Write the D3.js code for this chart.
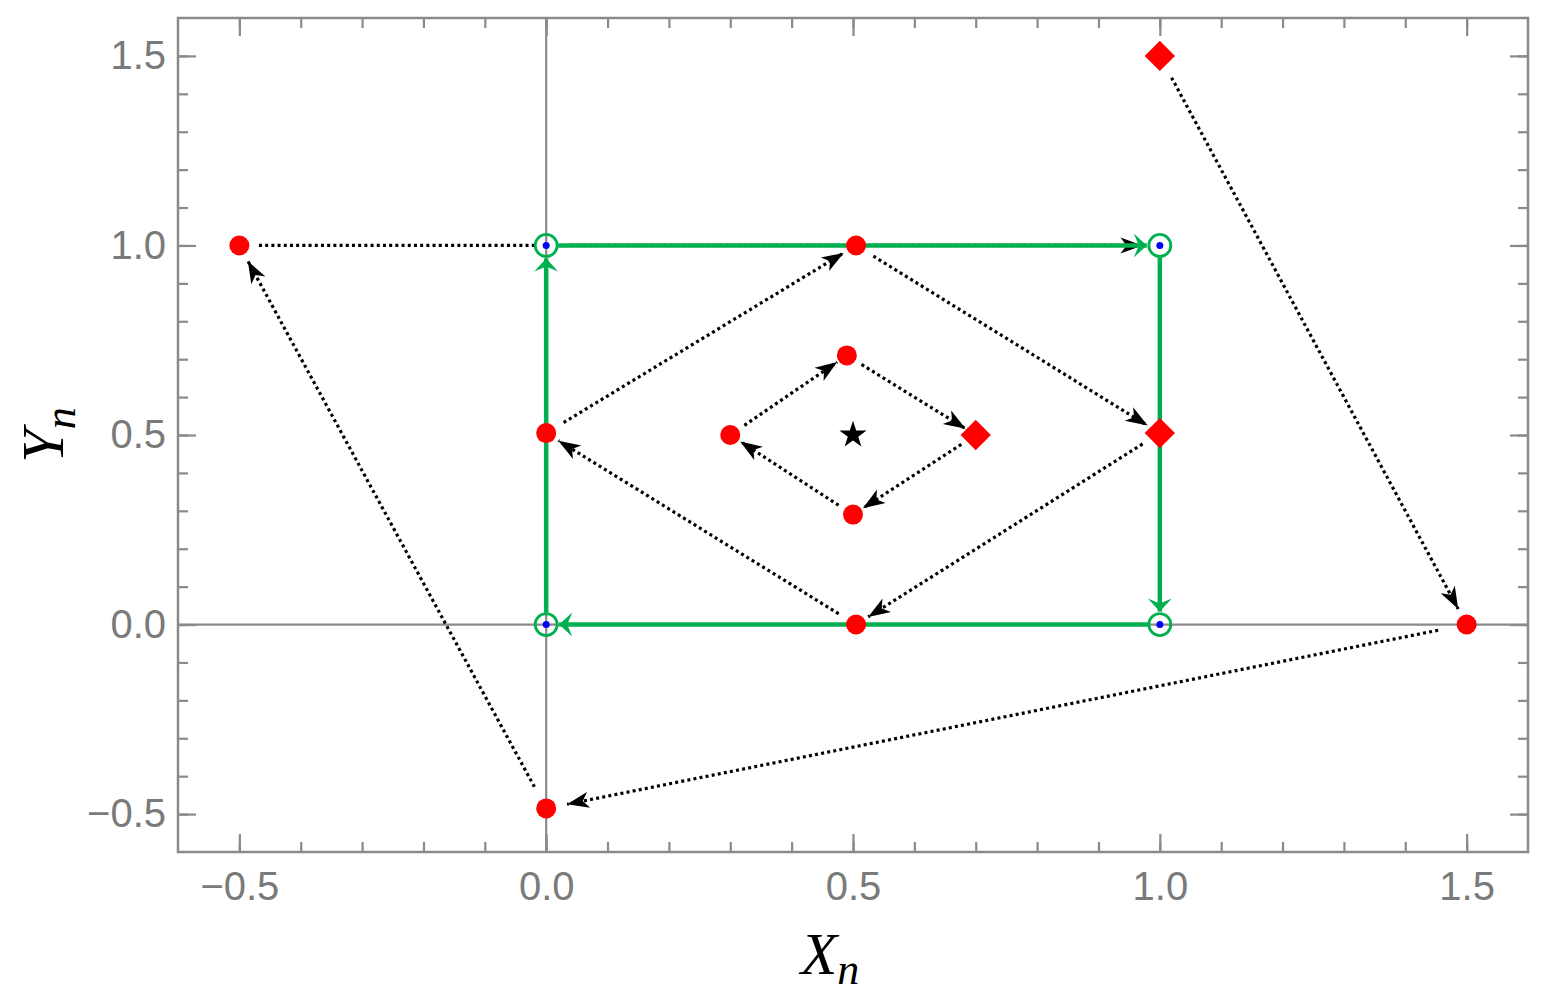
<!DOCTYPE html>
<html>
<head>
<meta charset="utf-8">
<script src="https://cdn.jsdelivr.net/npm/d3@7"></script>
<style>
  body { margin: 0; background: #fff; }
  .tick text { font-family: "Liberation Sans", Arial, sans-serif; font-size: 40px; fill: #7a7a7a; }
  .tick line { stroke: #8a8a8a; stroke-width: 2.2; }
</style>
</head>
<body>
<svg width="1544" height="1000"></svg>
<script>

// data

var xMajor = [-0.5, 0.0, 0.5, 1.0, 1.5];
var yMajor = [-0.5, 0.0, 0.5, 1.0, 1.5];
var minorTicks = [-0.5, -0.4, -0.3, -0.2, -0.1, 0.0, 0.1, 0.2, 0.3, 0.4, 0.5,
                  0.6, 0.7, 0.8, 0.9, 1.0, 1.1, 1.2, 1.3, 1.4, 1.5];

// period-4 fixed cycle (green)
var fixedPoints = [[0, 0], [0, 1], [1, 1], [1, 0]];
var greenCycle = [[0, 0], [0, 1], [1, 1], [1, 0], [0, 0]];

// orbits (black dotted arrows)
var orbitOuter  = [[1.0, 1.5], [1.5, 0.0], [0.0, -0.485], [-0.5, 1.0], [0.0, 1.0], [1.0, 1.0]];
var outerArrows = [true, true, true, false, true];
var orbitMiddle = [[1.0, 0.505], [0.505, 0.0], [0.0, 0.505], [0.505, 1.0], [1.0, 0.505]];
var orbitInner  = [[0.7, 0.5], [0.5, 0.29], [0.3, 0.5], [0.49, 0.71], [0.7, 0.5]];

var redDots = [[-0.5, 1.0], [0.505, 1.0], [0.0, 0.505], [0.3, 0.5], [0.49, 0.71],
               [0.5, 0.29], [0.505, 0.0], [1.5, 0.0], [0.0, -0.485]];
var redDiamonds = [[1.0, 1.5], [0.7, 0.5], [1.0, 0.505]];
var centre = [0.5, 0.5];


var svg = d3.select("svg"),
    pLeft = 178, pRight = 1528, pTop = 18, pBottom = 852;

var x = d3.scaleLinear().domain([-0.6, 1.6]).range([pLeft, pRight]),
    y = d3.scaleLinear().domain([-0.6, 1.6]).range([pBottom, pTop]);

var fmt = d3.format(".1f");
var grey = "#8a8a8a", green = "#00b050";

// markers
var defs = svg.append("defs");
defs.append("marker")
    .attr("id", "blackHead")
    .attr("markerUnits", "userSpaceOnUse")
    .attr("viewBox", "-24 -10 26 20")
    .attr("refX", 0).attr("refY", 0)
    .attr("markerWidth", 26).attr("markerHeight", 20)
    .attr("orient", "auto")
  .append("path")
    .attr("d", "M0,0 L-22,-8 L-16,0 L-22,8 Z")
    .attr("fill", "#000");

defs.append("marker")
    .attr("id", "greenHead")
    .attr("markerUnits", "userSpaceOnUse")
    .attr("viewBox", "-16 -14 18 28")
    .attr("refX", 0).attr("refY", 0)
    .attr("markerWidth", 18).attr("markerHeight", 28)
    .attr("orient", "auto")
  .append("path")
    .attr("d", "M0,0 L-13,-12 L-8,0 L-13,12 Z")
    .attr("fill", green);

// axes lines through origin
svg.append("line")
    .attr("x1", x(0)).attr("x2", x(0)).attr("y1", pTop).attr("y2", pBottom)
    .attr("stroke", grey).attr("stroke-width", 2.2);
svg.append("line")
    .attr("x1", pLeft).attr("x2", pRight).attr("y1", y(0)).attr("y2", y(0))
    .attr("stroke", grey).attr("stroke-width", 2.2);

// ticks, all four sides, pointing inward
function addAxis(axis, tf, labels) {
  var g = svg.append("g").attr("transform", tf).call(axis);
  g.select(".domain").remove();
  if (!labels) g.selectAll("text").remove();
  return g;
}

addAxis(d3.axisBottom(x).tickValues(minorTicks).tickSize(-10).tickFormat(""), "translate(0," + pBottom + ")", false);
addAxis(d3.axisBottom(x).tickValues(xMajor).tickSize(-18).tickPadding(20).tickFormat(fmt), "translate(0," + pBottom + ")", true);
addAxis(d3.axisTop(x).tickValues(minorTicks).tickSize(-10).tickFormat(""), "translate(0," + pTop + ")", false);
addAxis(d3.axisTop(x).tickValues(xMajor).tickSize(-18).tickFormat(""), "translate(0," + pTop + ")", false);

addAxis(d3.axisLeft(y).tickValues(minorTicks).tickSize(-10).tickFormat(""), "translate(" + pLeft + ",0)", false);
addAxis(d3.axisLeft(y).tickValues(yMajor).tickSize(-18).tickPadding(12).tickFormat(fmt), "translate(" + pLeft + ",0)", true);
addAxis(d3.axisRight(y).tickValues(minorTicks).tickSize(-10).tickFormat(""), "translate(" + pRight + ",0)", false);
addAxis(d3.axisRight(y).tickValues(yMajor).tickSize(-18).tickFormat(""), "translate(" + pRight + ",0)", false);

svg.append("rect")
    .attr("x", pLeft).attr("y", pTop)
    .attr("width", pRight - pLeft).attr("height", pBottom - pTop)
    .attr("fill", "none").attr("stroke", grey).attr("stroke-width", 2.5);

// shorten a segment in pixel space
function trim(p, q, a, b) {
  var x1 = x(p[0]), y1 = y(p[1]), x2 = x(q[0]), y2 = y(q[1]);
  var dx = x2 - x1, dy = y2 - y1, len = Math.sqrt(dx * dx + dy * dy);
  var ux = dx / len, uy = dy / len;
  return { x1: x1 + ux * a, y1: y1 + uy * a, x2: x2 - ux * b, y2: y2 - uy * b, len: len };
}

function segments(orbit, arrows) {
  var out = [];
  for (var i = 0; i < orbit.length - 1; i++) {
    out.push({ from: orbit[i], to: orbit[i + 1], arrow: arrows ? arrows[i] : true });
  }
  return out;
}

var dotted = segments(orbitOuter, outerArrows)
    .concat(segments(orbitMiddle))
    .concat(segments(orbitInner));

svg.append("g").selectAll("line")
    .data(dotted)
    .enter().append("line")
    .each(function(d) {
      var full = trim(d.from, d.to, 0, 0).len;
      var s = trim(d.from, d.to, 15 + full * 0.015, d.arrow ? 10 + full * 0.012 : 12);
      d3.select(this)
        .attr("x1", s.x1).attr("y1", s.y1)
        .attr("x2", s.x2).attr("y2", s.y2);
    })
    .attr("stroke", "#000")
    .attr("stroke-width", 3.2)
    .attr("stroke-dasharray", "3 3.2")
    .attr("marker-end", function(d) { return d.arrow ? "url(#blackHead)" : null; });

// green cycle
svg.append("g").selectAll("line")
    .data(segments(greenCycle))
    .enter().append("line")
    .each(function(d) {
      var s = trim(d.from, d.to, 12, 13);
      d3.select(this)
        .attr("x1", s.x1).attr("y1", s.y1)
        .attr("x2", s.x2).attr("y2", s.y2);
    })
    .attr("stroke", green)
    .attr("stroke-width", 4.5)
    .attr("marker-end", "url(#greenHead)");

svg.append("g").selectAll("circle")
    .data(fixedPoints)
    .enter().append("circle")
    .attr("cx", function(d) { return x(d[0]); })
    .attr("cy", function(d) { return y(d[1]); })
    .attr("r", 11)
    .attr("fill", "none")
    .attr("stroke", green)
    .attr("stroke-width", 2.8);

svg.append("g").selectAll("circle")
    .data(fixedPoints)
    .enter().append("circle")
    .attr("cx", function(d) { return x(d[0]); })
    .attr("cy", function(d) { return y(d[1]); })
    .attr("r", 3.5)
    .attr("fill", "#0000ff");

// red points
svg.append("g").selectAll("circle")
    .data(redDots)
    .enter().append("circle")
    .attr("cx", function(d) { return x(d[0]); })
    .attr("cy", function(d) { return y(d[1]); })
    .attr("r", 10)
    .attr("fill", "#ff0000");

svg.append("g").selectAll("path")
    .data(redDiamonds)
    .enter().append("path")
    .attr("d", d3.symbol().type(d3.symbolSquare).size(460))
    .attr("transform", function(d) { return "translate(" + x(d[0]) + "," + y(d[1]) + ") rotate(45)"; })
    .attr("fill", "#ff0000");

svg.append("path")
    .attr("d", d3.symbol().type(d3.symbolStar).size(230))
    .attr("transform", "translate(" + x(centre[0]) + "," + y(centre[1]) + ")")
    .attr("fill", "#000");

// axis titles
var xt = svg.append("text")
    .attr("x", 830).attr("y", 974)
    .attr("text-anchor", "middle")
    .attr("font-family", "Liberation Serif, serif")
    .attr("font-style", "italic")
    .attr("font-size", 60)
    .attr("fill", "#000");
xt.append("tspan").text("X");
xt.append("tspan").attr("font-size", 44).attr("dy", 10).text("n");

var yt = svg.append("text")
    .attr("transform", "translate(63,435) rotate(-90)")
    .attr("text-anchor", "middle")
    .attr("font-family", "Liberation Serif, serif")
    .attr("font-style", "italic")
    .attr("font-size", 60)
    .attr("fill", "#000");
yt.append("tspan").text("Y");
yt.append("tspan").attr("font-size", 44).attr("dy", 12).text("n");

</script>
</body>
</html>
